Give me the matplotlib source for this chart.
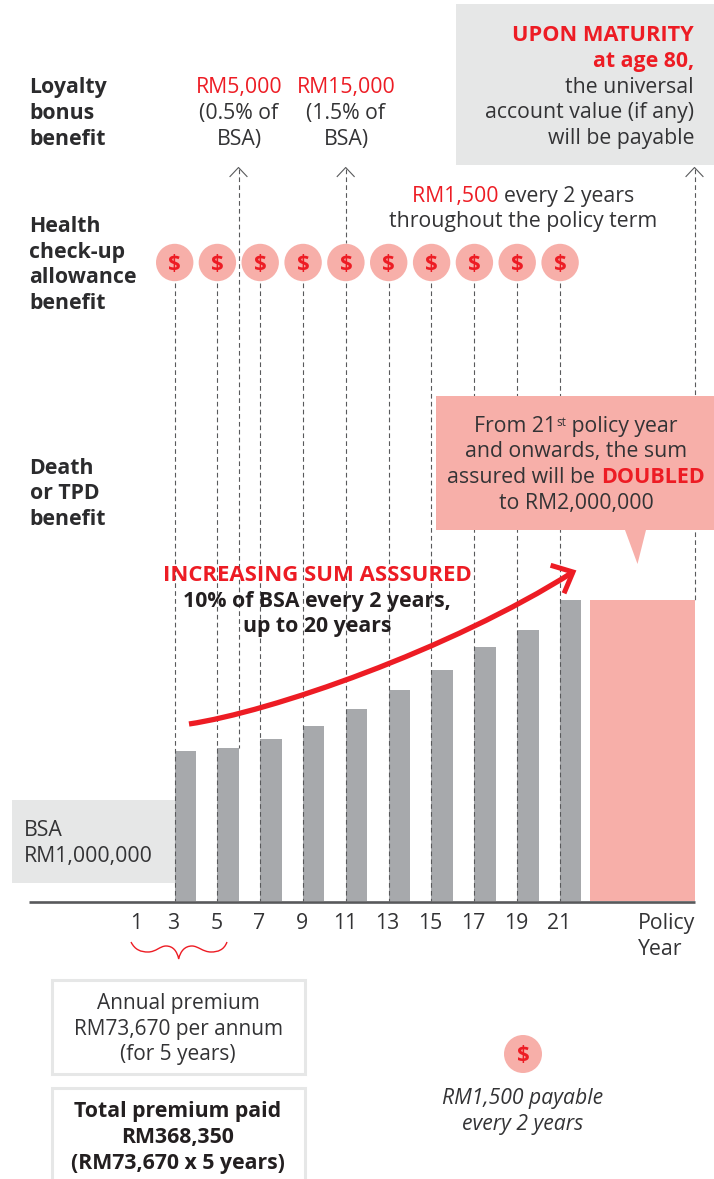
import matplotlib
matplotlib.use("Agg")
import matplotlib.pyplot as plt
from matplotlib.patches import Rectangle, Polygon, Circle, PathPatch
from matplotlib.path import Path

plt.rcParams['font.family'] = ['Open Sans', 'DejaVu Sans']

years = [3, 5, 7, 9, 11, 13, 15, 17, 19, 21]
sum_assured = [1000, 1015, 1075, 1160, 1275, 1400, 1535, 1690, 1800, 2000]  # RM thousand
tick_years = [1, 3, 5, 7, 9, 11, 13, 15, 17, 19, 21]
doubled_value = 2000

RED = '#ED1C24'; PINK = '#F7AFA9'; GREY = '#E6E7E7'; BAR = '#A7A9AC'; INK = '#333335'; DASH = '#58595B'

W, H = 714, 1179
fig = plt.figure(figsize=(W/100, H/100), dpi=100, facecolor='white')
ax = fig.add_axes([0, 0, 1, 1])
ax.set_xlim(0, W); ax.set_ylim(H, 0); ax.axis('off')

FS = 15.3
FSB = 15.95

# ---- chart axes: policy years horizontally, RM thousand vertically, aligned to baseline
PX_PER_YEAR = 21.415
X3 = 174.5
BASE = 901.0
PX_PER_K = 301.0 / 2000
xl0 = 3 - X3 / PX_PER_YEAR
xl1 = xl0 + W / PX_PER_YEAR
yl0 = -(H - BASE) / PX_PER_K
yl1 = BASE / PX_PER_K
cax = fig.add_axes([0, 0, 1, 1], zorder=0)
cax.set_xlim(xl0, xl1); cax.set_ylim(yl0, yl1); cax.patch.set_alpha(0)
cax.axis('off')
ax.set_zorder(1); ax.patch.set_alpha(0)

cax.bar(years, sum_assured, width=21.5 / PX_PER_YEAR, align='edge', color=BAR, zorder=2)
fx0 = xl0 + 590 / PX_PER_YEAR
fx1 = xl0 + 695 / PX_PER_YEAR
cax.bar([fx0], [doubled_value], width=fx1 - fx0, align='edge', color=PINK, zorder=2)

def run(x, y, parts):
    """Draw a centred line made of several text runs; parts = (text, color, weight, size, dy)."""
    r = fig.canvas.get_renderer()
    arts = [ax.text(0, y + p[4], p[0], color=p[1], fontweight=p[2], fontsize=p[3],
                    ha='left', va='baseline', zorder=6) for p in parts]
    ws = [a.get_window_extent(r).width for a in arts]
    cx = x - sum(ws) / 2
    for a, wd in zip(arts, ws):
        a.set_x(cx)
        cx += wd

def T(x, y, s, color=INK, weight='normal', ha='center', fs=FS, style='normal', z=6):
    ax.text(x, y, s, color=color, fontweight=weight, ha=ha, va='baseline', fontsize=fs,
            fontstyle=style, zorder=z)

# ---- grey boxes
ax.add_patch(Rectangle((456, 4), 258, 161, fc=GREY, ec='none', zorder=1))
ax.add_patch(Rectangle((12, 800), 162.5, 83, fc=GREY, ec='none', zorder=1))

# ---- dashed guides
def dash(x, y0, y1):
    ax.plot([x, x], [y0, y1], color=DASH, lw=0.8, dashes=(4.2, 2.9), zorder=3)

guide_x = [174.5, 217.2, 260, 302.9, 345.7, 388.5, 431.4, 474.2, 517, 559.9]
for gx in guide_x:
    dash(gx, 283, 901)
for gx, y1 in [(238.5, 748), (345.7, 243), (694.5, 600)]:
    dash(gx, 169, y1)
    ax.plot([gx - 8.5, gx, gx + 8.5], [176.5, 167.5, 176.5], color=DASH, lw=0.8, zorder=3)

# ---- circles
for gx in guide_x:
    ax.add_patch(Circle((gx + 0.2, 262.5), 18.7, fc=PINK, ec='none', zorder=4))
    T(gx + 0.2, 269.5, '$', color=RED, weight='bold', fs=16)

# ---- left labels
for y, s in [(93, 'Loyalty'), (119, 'bonus'), (145, 'benefit'),
             (232, 'Health'), (258, 'check-up'), (283, 'allowance'), (309, 'benefit'),
             (474, 'Death'), (499, 'or TPD'), (525, 'benefit')]:
    T(29.5, y, s, weight='bold', ha='left', color='#2b2b2d')

# ---- loyalty bonus
T(239, 93, 'RM5,000', color=RED); T(239, 119, '(0.5% of'); T(239, 145, 'BSA)')
T(346, 93, 'RM15,000', color=RED); T(346, 119, '(1.5% of'); T(346, 145, 'BSA)')

# ---- maturity
T(694, 41, 'UPON MATURITY', color=RED, weight='bold', ha='right', fs=15.7)
T(694, 67, 'at age 80,', color=RED, weight='bold', ha='right', fs=15.3)
T(694, 93, 'the universal', ha='right')
T(694, 118, 'account value (if any)', ha='right')
T(694, 144, 'will be payable', ha='right')

# ---- health check-up note
run(523, 202, [('RM1,500 ', RED, 'normal', FS, 0), ('every 2 years', INK, 'normal', FS, 0)])
T(523, 227, 'throughout the policy term')

# ---- doubled callout
ax.add_patch(Rectangle((436, 396), 278, 134, fc=PINK, ec='none', zorder=5))
ax.add_patch(Polygon([(625, 530), (646, 530), (637.5, 564)], fc=PINK, ec='none', zorder=5))
run(576, 432, [('From 21', INK, 'normal', FS, 0), ('st', INK, 'normal', 8.5, -6),
               (' policy year', INK, 'normal', FS, 0)])
T(576, 457, 'and onwards, the sum')
run(576, 483, [('assured will be ', INK, 'normal', FS, 0), ('DOUBLED', RED, 'bold', 15.5, 0)])
T(576, 509, 'to RM2,000,000')

# ---- increasing arrow
curve = Path([(189, 724), (270, 712), (450, 650), (573, 572)],
             [Path.MOVETO, Path.CURVE4, Path.CURVE4, Path.CURVE4])
ax.add_patch(PathPatch(curve, fc='none', ec=RED, lw=3.8, capstyle='butt', zorder=7))
ax.plot([553, 573, 565], [566, 572, 591], color=RED, lw=3.6, solid_joinstyle='miter', zorder=7)

T(317, 581, 'INCREASING SUM ASSSURED', color=RED, weight='bold', fs=FSB)
T(317, 607, '10% of BSA every 2 years,', weight='bold', color='#231F20')
T(317, 632, 'up to 20 years', weight='bold', color='#231F20')

# ---- BSA
T(24, 836, 'BSA', ha='left')
T(24, 862, 'RM1,000,000', ha='left')

# ---- baseline
ax.plot([29, 695], [901.5, 901.5], color=DASH, lw=1.9, zorder=5, solid_capstyle='butt')

# ---- x tick labels
for yr in tick_years:
    px = X3 + (yr - 3) * PX_PER_YEAR - 1
    if yr == 1:
        px = 136
    T(px, 929, str(yr))
T(638, 929, 'Policy', ha='left')
T(638, 955, 'Year', ha='left')

# ---- brace
bv = [(131, 942), (135, 950), (141, 952), (148, 952),
      (156, 952), (160, 946), (166, 946),
      (173, 946), (177, 951), (178.7, 959),
      (180.4, 951), (185, 946), (192, 946),
      (198, 946), (203, 952), (211, 952),
      (218, 952), (224, 950), (227, 942)]
brace = Path(bv, [Path.MOVETO] + [Path.CURVE4] * 18)
ax.add_patch(PathPatch(brace, fc='none', ec=RED, lw=1.0, zorder=5))

# ---- premium boxes
ax.add_patch(Rectangle((52, 980), 253, 94, fc='white', ec=GREY, lw=2.2, zorder=2))
ax.add_patch(Rectangle((52, 1088), 253, 100, fc='white', ec=GREY, lw=2.2, zorder=2))
T(178, 1009, 'Annual premium', fs=15.0)
T(178, 1035, 'RM73,670 per annum', fs=15.0)
T(178, 1060, '(for 5 years)', fs=15.0)
T(178, 1117, 'Total premium paid', weight='bold', color='#231F20')
T(178, 1143, 'RM368,350', weight='bold', color='#231F20')
T(178, 1169, '(RM73,670 x 5 years)', weight='bold', color='#231F20')

# ---- legend
ax.add_patch(Circle((523, 1054), 19, fc=PINK, ec='none', zorder=4))
T(523, 1061, '$', color=RED, weight='bold', fs=16)
T(523, 1104, 'RM1,500 payable', style='italic', fs=15.2)
T(523, 1130, 'every 2 years', style='italic', fs=15.2)

fig.savefig('out.png', dpi=100)
